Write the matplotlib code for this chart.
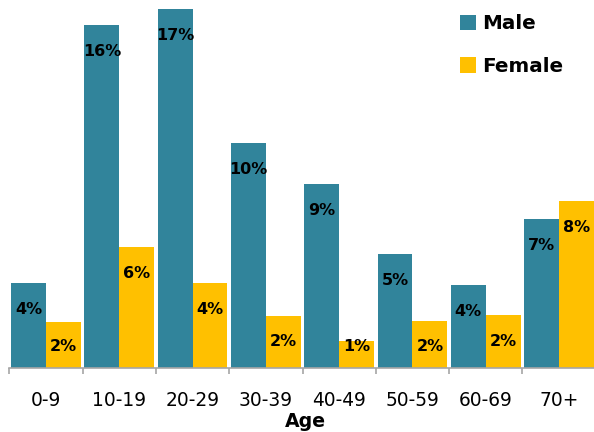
import matplotlib.pyplot as plt
import numpy as np
from matplotlib.ticker import FixedLocator

plt.rcParams['font.family'] = ['DejaVu Sans']

ages = ['0-9', '10-19', '20-29', '30-39', '40-49', '50-59', '60-69', '70+']
male = [3.93, 15.94, 16.68, 10.44, 8.53, 5.27, 3.85, 6.92]
female = [2.11, 5.60, 3.93, 2.42, 1.24, 2.19, 2.45, 7.75]
male_labels = ['4%', '16%', '17%', '10%', '9%', '5%', '4%', '7%']
female_labels = ['2%', '6%', '4%', '2%', '1%', '2%', '2%', '8%']

MALE_COLOR = '#31849B'
FEMALE_COLOR = '#FFC000'

fig = plt.figure(figsize=(5.94, 4.32), dpi=100)
ax = fig.add_axes([9.3 / 594, 0.1488, 586.4 / 594, 0.846])

x = np.arange(len(ages))
w = 0.475
b1 = ax.bar(x - w / 2, male, width=w, color=MALE_COLOR, label='Male')
b2 = ax.bar(x + w / 2, female, width=w, color=FEMALE_COLOR, label='Female')

# labels sit inside the bar end; short bars keep them just above the axis
for bars, labels in ((b1, male_labels), (b2, female_labels)):
    for rect, lab in zip(bars, labels):
        y = max(rect.get_height() - 1.22, 1.0)
        ax.text(rect.get_x() + rect.get_width() / 2, y, lab,
                ha='center', va='center', fontsize=11.5, fontweight='bold', color='black')

ax.set_xlim(-0.5, 7.5)
ax.set_ylim(0, 17)
ax.set_yticks([])
for side in ('top', 'right', 'left'):
    ax.spines[side].set_visible(False)
ax.spines['bottom'].set_color('#A6A6A6')
ax.spines['bottom'].set_linewidth(1.2)

ax.set_xticks(x)
ax.set_xticklabels(ages, fontsize=13.4)
ax.tick_params(axis='x', which='major', length=0, pad=17)
ax.xaxis.set_minor_locator(FixedLocator(np.arange(-0.5, 8, 1)))
ax.tick_params(axis='x', which='minor', length=4.5, width=1.2, color='#A6A6A6')

fig.text(305 / 594, (432 - 421.7) / 432, 'Age', ha='center', va='center',
         fontsize=13.6, fontweight='bold')

ax.legend(loc='upper left', bbox_to_anchor=(460 / 594, 1 - 14 / 432),
          bbox_transform=fig.transFigure, frameon=False,
          prop={'weight': 'bold', 'size': 14.3}, handlelength=0.8,
          handleheight=0.8, handletextpad=0.3, labelspacing=1.2, borderpad=0,
          borderaxespad=0)

fig.savefig('out.png', dpi=100)
